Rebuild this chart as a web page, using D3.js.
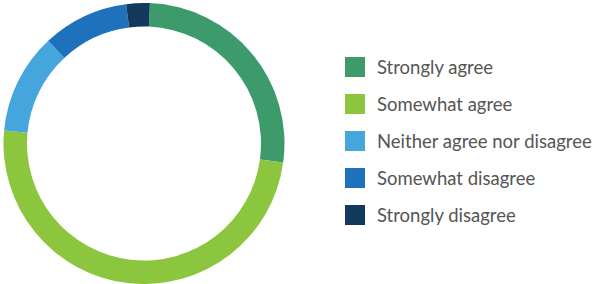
<!DOCTYPE html>
<html>
<head>
<meta charset="utf-8">
<script src="https://cdn.jsdelivr.net/npm/d3@7"></script>
<style>
	body { margin: 0; background: #fff; }
	svg { display: block; }
	.legend text { font-family: Lato, sans-serif; font-size: 18.5px; fill: #555; }
</style>
</head>
<body>
<svg id="chart" width="594" height="284"></svg>
<script>
var categories = ["Strongly agree", "Somewhat agree", "Neither agree nor disagree", "Somewhat disagree", "Strongly disagree"];
var values = [26.5, 49.3, 11.6, 9.9, 2.7];
var colors = ["#3d9a6b", "#8cc63f", "#45a6de", "#1e72bc", "#133a5d"];

var width = 594, height = 284,
	cx = 144, cy = 143.5,
	outer = 140.5, inner = 117,
	offset = 2.4 * Math.PI / 180;

var svg = d3.select("#chart");

var color = d3.scaleOrdinal().domain(categories).range(colors);

var pie = d3.pie()
	.sort(null)
	.value(function(d, i) { return values[i]; })
	.startAngle(offset)
	.endAngle(offset + 2 * Math.PI);

var arc = d3.arc().innerRadius(inner).outerRadius(outer);

svg.append("g")
	.attr("transform", "translate(" + cx + "," + cy + ")")
	.selectAll("path")
	.data(pie(categories))
	.enter()
	.append("path")
	.attr("d", arc)
	.attr("fill", function(d) { return color(d.data); });

var rowY = d3.scalePoint().domain(categories).range([67, 215]);

var legend = svg.append("g")
	.attr("class", "legend")
	.selectAll("g")
	.data(categories)
	.enter()
	.append("g")
	.attr("transform", function(d) { return "translate(345," + rowY(d) + ")"; });

legend.append("rect")
	.attr("x", 0).attr("y", -10)
	.attr("width", 20).attr("height", 20)
	.attr("fill", function(d) { return color(d); });

legend.append("text")
	.attr("x", 32)
	.attr("y", 6.5)
	.text(function(d) { return d; });
</script>
</body>
</html>
